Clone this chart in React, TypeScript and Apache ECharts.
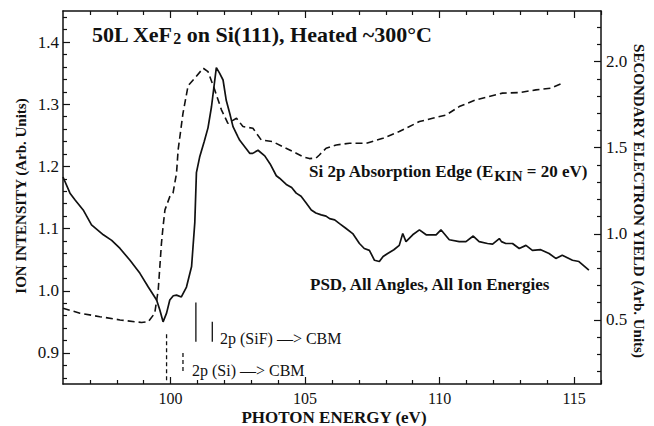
import React, { useEffect, useRef } from "react";
import * as echarts from "echarts";

// PSD ion intensity (left axis)
const psdEnergy = [
  96.0, 96.26, 96.45, 96.75, 97.06, 97.5, 97.81, 98.12, 98.49, 98.86, 99.17, 99.48, 99.6, 99.72, 99.85,
  99.97, 100.1, 100.22, 100.4, 100.59, 100.78, 100.9, 100.96, 101.08, 101.25, 101.39, 101.52, 101.7,
  101.82, 101.95, 102.07, 102.2, 102.32, 102.5, 102.57, 102.82, 102.94, 103.05, 103.25, 103.5, 103.7,
  103.93, 104.05, 104.3, 104.5, 104.67, 104.85, 105.04, 105.23, 105.4, 105.6, 105.78, 105.91, 106.1,
  106.28, 106.5, 106.77, 107.02, 107.2, 107.39, 107.58, 107.76, 107.9, 108.07, 108.3, 108.5, 108.63,
  108.75, 109.0, 109.25, 109.5, 109.87, 110.05, 110.36, 110.73, 110.98, 111.25, 111.47, 111.78, 111.97,
  112.22, 112.3, 112.46, 112.71, 112.96, 113.21, 113.45, 113.76, 114.07, 114.32, 114.56, 114.94, 115.18,
  115.55,
];
const psdIntensity = [
  1.183, 1.157, 1.146, 1.13, 1.106, 1.09, 1.081, 1.068, 1.049, 1.028, 1.006, 0.985, 0.969, 0.95, 0.964,
  0.985, 0.992, 0.993, 0.99, 1.006, 1.039, 1.11, 1.19, 1.215, 1.24, 1.262, 1.296, 1.359,
  1.35, 1.339, 1.306, 1.285, 1.264, 1.248, 1.242, 1.228, 1.221, 1.221, 1.226, 1.217, 1.204,
  1.185, 1.181, 1.171, 1.166, 1.157, 1.152, 1.141, 1.13, 1.125, 1.122, 1.12, 1.116, 1.114,
  1.108, 1.101, 1.092, 1.076, 1.068, 1.065, 1.049, 1.047, 1.055, 1.06, 1.066, 1.073, 1.092,
  1.079, 1.09, 1.098, 1.09, 1.09, 1.098, 1.082, 1.079, 1.079, 1.088, 1.079, 1.076, 1.075,
  1.084, 1.079, 1.076, 1.076, 1.068, 1.073, 1.065, 1.066, 1.06, 1.052, 1.057, 1.049, 1.047,
  1.033,
];

// Si 2p absorption edge, secondary electron yield (right axis)
const edgeEnergy = [
  96.0, 96.63, 97.37, 98.12, 98.92, 99.17, 99.41, 99.54, 99.66, 99.72, 99.79, 99.97, 100.09, 100.22,
  100.28, 100.46, 100.65, 100.9, 101.21, 101.39, 101.64, 101.89, 102.13, 102.45, 102.69, 103.06, 103.37,
  103.8, 104.17, 104.67, 104.92, 105.16, 105.41, 105.53, 105.78, 106.16, 106.65, 107.27, 107.89, 108.5,
  109.25, 109.74, 110.24, 110.73, 111.35, 111.84, 112.34, 112.96, 113.58, 114.13, 114.5,
];
const edgeYield = [
  0.568, 0.539, 0.519, 0.5, 0.485, 0.49, 0.539, 0.674, 0.945, 1.042, 1.139, 1.216, 1.236, 1.352,
  1.487, 1.7, 1.86, 1.904, 1.962, 1.942, 1.836, 1.72, 1.642, 1.671, 1.623, 1.613, 1.545,
  1.535, 1.506, 1.468, 1.448, 1.437, 1.44, 1.458, 1.497, 1.516, 1.526, 1.526, 1.555, 1.594,
  1.652, 1.671, 1.69, 1.739, 1.778, 1.797, 1.817, 1.82, 1.836, 1.846, 1.871,
];

// Marker lines (left axis units)
const sifMarkerX = [100.94, 101.55];
const sifMarkerTop = [0.981, 0.95];
const sifMarkerBottom = [0.918, 0.918];
const siMarkerX = [99.85, 100.46];
const siMarkerTop = [0.93, 0.9];
const siMarkerBottom = [0.854, 0.868];

// Axes
const xMin = 96;
const xMax = 116;
const xMajorTicks = [100, 105, 110, 115];
const xMinorTicks = [97, 98, 99, 101, 102, 103, 104, 106, 107, 108, 109, 111, 112, 113, 114, 116];
const yLeftMin = 0.85;
const yLeftMax = 1.45;
const yLeftMajor = [0.9, 1.0, 1.1, 1.2, 1.3, 1.4];
const yLeftMinor = [
  0.86, 0.88, 0.92, 0.94, 0.96, 0.98, 1.02, 1.04, 1.06, 1.08, 1.12, 1.14, 1.16, 1.18, 1.22, 1.24, 1.26,
  1.28, 1.32, 1.34, 1.36, 1.38, 1.42, 1.44,
];
const yRightMin = 0.128;
const yRightMax = 2.294;
const yRightMajor = [0.5, 1.0, 1.5, 2.0];
const yRightMinor = [0.2, 0.3, 0.4, 0.6, 0.7, 0.8, 0.9, 1.1, 1.2, 1.3, 1.4, 1.6, 1.7, 1.8, 1.9, 2.1, 2.2];

const FONT = "Liberation Serif";
const INK = "#111";

export default function App() {
  const ref = useRef<HTMLDivElement>(null);
  useEffect(() => {
    if (!ref.current) return;
    const chart = echarts.init(ref.current, null, { renderer: "svg" });

    const axisLine = { show: true, lineStyle: { color: INK, width: 1.5 } };
    const tickStyle = { color: INK, width: 1.2 };

    const xAxisBase = { type: "value", min: xMin, max: xMax, gridIndex: 0, splitLine: { show: false } };
    const xAxes = [
      {
        ...xAxisBase,
        position: "bottom",
        axisLine,
        axisTick: { show: true, inside: true, length: 7, customValues: xMajorTicks, lineStyle: tickStyle },
        axisLabel: {
          show: true,
          customValues: xMajorTicks,
          fontSize: 16,
          fontFamily: FONT,
          color: INK,
          margin: 6,
        },
      },
      {
        ...xAxisBase,
        position: "bottom",
        axisLine: { show: false },
        axisTick: { show: true, inside: true, length: 4, customValues: xMinorTicks, lineStyle: tickStyle },
        axisLabel: { show: false },
      },
      {
        ...xAxisBase,
        position: "top",
        axisLine,
        axisTick: { show: true, inside: true, length: 7, customValues: xMajorTicks, lineStyle: tickStyle },
        axisLabel: { show: false },
      },
      {
        ...xAxisBase,
        position: "top",
        axisLine: { show: false },
        axisTick: { show: true, inside: true, length: 4, customValues: xMinorTicks, lineStyle: tickStyle },
        axisLabel: { show: false },
      },
    ];

    const yL = { type: "value", min: yLeftMin, max: yLeftMax, gridIndex: 0, splitLine: { show: false } };
    const yR = { type: "value", min: yRightMin, max: yRightMax, gridIndex: 0, splitLine: { show: false } };
    const yAxes = [
      {
        ...yL,
        position: "left",
        axisLine,
        axisTick: { show: true, inside: true, length: 7, customValues: yLeftMajor, lineStyle: tickStyle },
        axisLabel: {
          show: true,
          customValues: yLeftMajor,
          formatter: (v: number) => v.toFixed(1),
          fontSize: 17,
          fontFamily: FONT,
          color: INK,
          margin: 4,
        },
      },
      {
        ...yL,
        position: "left",
        axisLine: { show: false },
        axisTick: { show: true, inside: true, length: 4, customValues: yLeftMinor, lineStyle: tickStyle },
        axisLabel: { show: false },
      },
      {
        ...yR,
        position: "right",
        axisLine,
        axisTick: { show: true, inside: true, length: 7, customValues: yRightMajor, lineStyle: tickStyle },
        axisLabel: {
          show: true,
          customValues: yRightMajor,
          formatter: (v: number) => v.toFixed(1),
          fontSize: 17,
          fontFamily: FONT,
          color: INK,
          margin: 5,
        },
      },
      {
        ...yR,
        position: "right",
        axisLine: { show: false },
        axisTick: { show: true, inside: true, length: 4, customValues: yRightMinor, lineStyle: tickStyle },
        axisLabel: { show: false },
      },
    ];

    const markerSeries: any[] = [];
    sifMarkerX.forEach((x, i) => {
      markerSeries.push({
        type: "line",
        xAxisIndex: 0,
        yAxisIndex: 0,
        data: [
          [x, sifMarkerTop[i]],
          [x, sifMarkerBottom[i]],
        ],
        showSymbol: false,
        lineStyle: { color: INK, width: 1.3 },
        silent: true,
      });
    });
    siMarkerX.forEach((x, i) => {
      markerSeries.push({
        type: "line",
        xAxisIndex: 0,
        yAxisIndex: 0,
        data: [
          [x, siMarkerTop[i]],
          [x, siMarkerBottom[i]],
        ],
        showSymbol: false,
        lineStyle: { color: INK, width: 1.3, type: [4, 3] },
        silent: true,
      });
    });

    const txt = (
      text: string,
      x: number,
      y: number,
      size: number,
      bold: boolean,
      align = "left",
      rotation = 0
    ) => ({
      type: "text",
      x,
      y,
      rotation,
      silent: true,
      style: {
        text,
        fill: INK,
        fontFamily: FONT,
        fontWeight: bold ? "bold" : "normal",
        fontSize: size,
        align,
        verticalAlign: "middle",
      },
    });

    chart.setOption({
      animation: false,
      backgroundColor: "#fff",
      grid: { left: 63, top: 11, right: 53, bottom: 42, containLabel: false, outerBoundsMode: "none" },
      xAxis: xAxes,
      yAxis: yAxes,
      series: [
        {
          type: "line",
          name: "PSD",
          xAxisIndex: 0,
          yAxisIndex: 0,
          data: psdEnergy.map((e, i) => [e, psdIntensity[i]]),
          showSymbol: false,
          lineStyle: { color: INK, width: 1.7 },
          silent: true,
        },
        {
          type: "line",
          name: "Si 2p edge",
          xAxisIndex: 0,
          yAxisIndex: 2,
          data: edgeEnergy.map((e, i) => [e, edgeYield[i]]),
          showSymbol: false,
          lineStyle: { color: INK, width: 1.6, type: [7, 4] },
          silent: true,
        },
        ...markerSeries,
      ],
      graphic: [
        {
          type: "text",
          x: 92,
          y: 23,
          silent: true,
          style: {
            text: "{a|50L XeF}{s|2}{a| on Si(111), Heated ~300°C}",
            align: "left",
            verticalAlign: "top",
            rich: {
              a: { fontFamily: FONT, fontWeight: "bold", fontSize: 22, lineHeight: 23, verticalAlign: "top", fill: INK },
              s: {
                fontFamily: FONT,
                fontWeight: "bold",
                fontSize: 16,
                lineHeight: 23,
                padding: [7, 0, 0, 0],
                verticalAlign: "top",
                fill: INK,
              },
            },
          },
        },
        {
          type: "text",
          x: 309,
          y: 163,
          silent: true,
          style: {
            text: "{a|Si 2p Absorption Edge (E}{s|KIN}{a| = 20 eV)}",
            align: "left",
            verticalAlign: "top",
            rich: {
              a: { fontFamily: FONT, fontWeight: "bold", fontSize: 17, lineHeight: 20, verticalAlign: "top", fill: INK },
              s: {
                fontFamily: FONT,
                fontWeight: "bold",
                fontSize: 15,
                lineHeight: 20,
                padding: [5, 0, 0, 0],
                verticalAlign: "top",
                fill: INK,
              },
            },
          },
        },
        txt("PSD, All Angles, All Ion Energies", 310, 284, 17, true),
        txt("2p (SiF) —> CBM", 220, 338, 16, false),
        txt("2p (Si) —> CBM", 192, 370, 16, false),
        txt("PHOTON ENERGY (eV)", 334, 417, 17, true, "center"),
        txt("ION INTENSITY (Arb. Units)", 21, 196, 15, true, "center", Math.PI / 2),
        txt("SECONDARY ELECTRON YIELD (Arb. Units)", 639, 201, 15, true, "center", -Math.PI / 2),
      ],
    });

    return () => chart.dispose();
  }, []);

  return (
    <div
      ref={ref}
      style={{ position: "fixed", left: 0, top: 0, width: 654, height: 426, background: "#fff" }}
    />
  );
}
